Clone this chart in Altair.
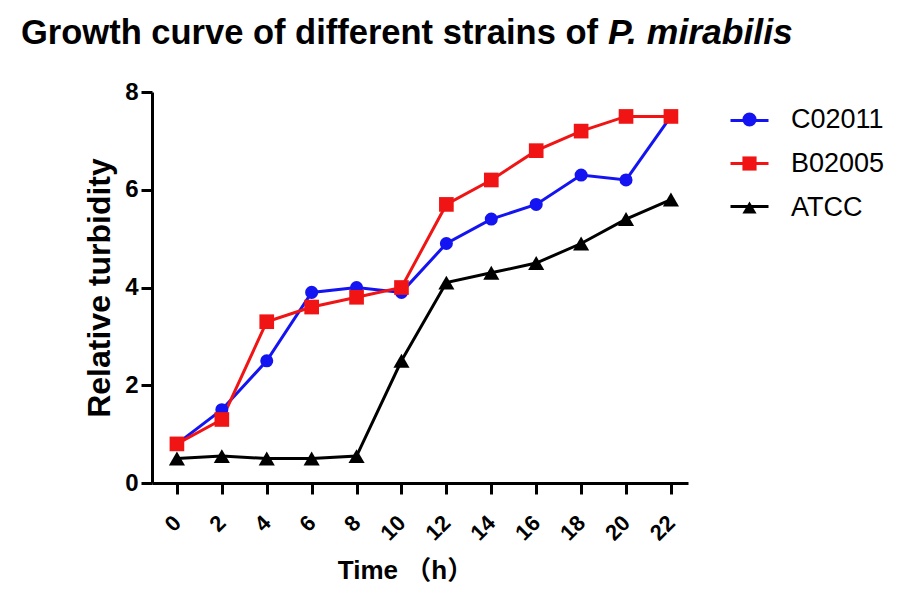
import altair as alt
import pandas as pd

# ---- data ----
time_h = [0, 2, 4, 6, 8, 10, 12, 14, 16, 18, 20, 22]
c02011 = [0.8, 1.5, 2.5, 3.9, 4.0, 3.9, 4.9, 5.4, 5.7, 6.3, 6.2, 7.5]
b02005 = [0.8, 1.3, 3.3, 3.6, 3.8, 4.0, 5.7, 6.2, 6.8, 7.2, 7.5, 7.5]
atcc = [0.5, 0.55, 0.5, 0.5, 0.55, 2.5, 4.1, 4.3, 4.5, 4.9, 5.4, 5.8]

strains = ["C02011", "B02005", "ATCC"]
colors = ["#1414f2", "#f01414", "#000000"]
shapes = ["circle", "square", "triangle-up"]
x_ticks = [0, 2, 4, 6, 8, 10, 12, 14, 16, 18, 20, 22]
y_ticks = [0, 2, 4, 6, 8]

title_main = "Growth curve of different strains of"
title_species = "P. mirabilis"
x_title = "Time （h）"
y_title = "Relative turbidity"

FONT = "Liberation Sans, Arial, Noto Sans CJK SC"

# drawing order: ATCC bottom, then C02011, B02005 on top
rows = []
for name, vals in [("ATCC", atcc), ("C02011", c02011), ("B02005", b02005)]:
    for t, v in zip(time_h, vals):
        rows.append({"time": t, "value": v, "strain": name})
df = pd.DataFrame(rows)

x = alt.X("time:Q",
          scale=alt.Scale(domain=[-1.11, 22.76], nice=False, zero=False),
          axis=alt.Axis(values=x_ticks, title=x_title, labelAngle=-45,
                        labelAlign="right", labelBaseline="middle",
                        labelPadding=25, labelFontSize=22,
                        titleFontSize=26, titleX=253, titleY=87,
                        titleAlign="center", titleBaseline="middle"))
y = alt.Y("value:Q",
          scale=alt.Scale(domain=[0, 8], nice=False),
          axis=alt.Axis(values=y_ticks, title=y_title, titleFontSize=32,
                        labelFontSize=24, labelPadding=3,
                        titleX=-53, titleAngle=-90,
                        titleAlign="center", titleBaseline="middle"))

color_scale = alt.Scale(domain=strains, range=colors)
shape_scale = alt.Scale(domain=strains, range=shapes)

# line part of the legend symbols (no labels of its own)
lines = alt.Chart(df).mark_line(strokeWidth=3).encode(
    x=x, y=y,
    color=alt.Color("strain:N", scale=color_scale,
                    legend=alt.Legend(title=None, orient="none",
                                      legendX=577, legendY=8,
                                      symbolType="stroke", symbolSize=1444,
                                      symbolStrokeWidth=3,
                                      labelExpr="''", labelFontSize=27,
                                      rowPadding=9)),
    detail="strain:N",
)

pt_legend = alt.Legend(title=None, orient="none", legendX=584, legendY=14,
                       symbolSize=200, labelFontSize=27, labelOffset=28,
                       rowPadding=16, labelFont="Liberation Sans",
                       labelFontWeight="normal")

points = alt.Chart(df).mark_point(filled=True, opacity=1).encode(
    x=x, y=y,
    color=alt.Color("strain:N", scale=color_scale, legend=pt_legend),
    shape=alt.Shape("strain:N", scale=shape_scale, legend=pt_legend),
    size=alt.Size("strain:N", scale=alt.Scale(domain=strains, range=[170, 260, 210]),
                  legend=None),
)

t1 = alt.Chart(pd.DataFrame({"t": [title_main]})).mark_text(
    align="left", baseline="alphabetic", font=FONT, fontSize=34.5,
    fontWeight="bold", color="black").encode(
    text="t:N", x=alt.value(-131), y=alt.value(-48))
t2 = alt.Chart(pd.DataFrame({"t": [title_species]})).mark_text(
    align="left", baseline="alphabetic", font=FONT, fontSize=35.5,
    fontWeight="bold", fontStyle="italic", color="black").encode(
    text="t:N", x=alt.value(456), y=alt.value(-48))

chart = alt.layer(lines, points, t1, t2).resolve_legend(
    color="independent", shape="independent"
).properties(
    width=536, height=391,
    autosize=alt.AutoSizeParams(type="none"),
    padding={"left": 144, "top": 84, "right": 204, "bottom": 105},
).configure_view(stroke=None).configure_axis(
    grid=False, domainColor="black", domainWidth=3, tickColor="black",
    tickWidth=3, tickSize=11, labelFont=FONT,
    labelFontWeight="bold", labelColor="black", titleFont=FONT,
    titleFontWeight="bold", titleColor="black",
).configure_legend(labelFont=FONT, labelColor="black")

chart.save("out.html", embed_options={"renderer": "svg", "actions": False})
